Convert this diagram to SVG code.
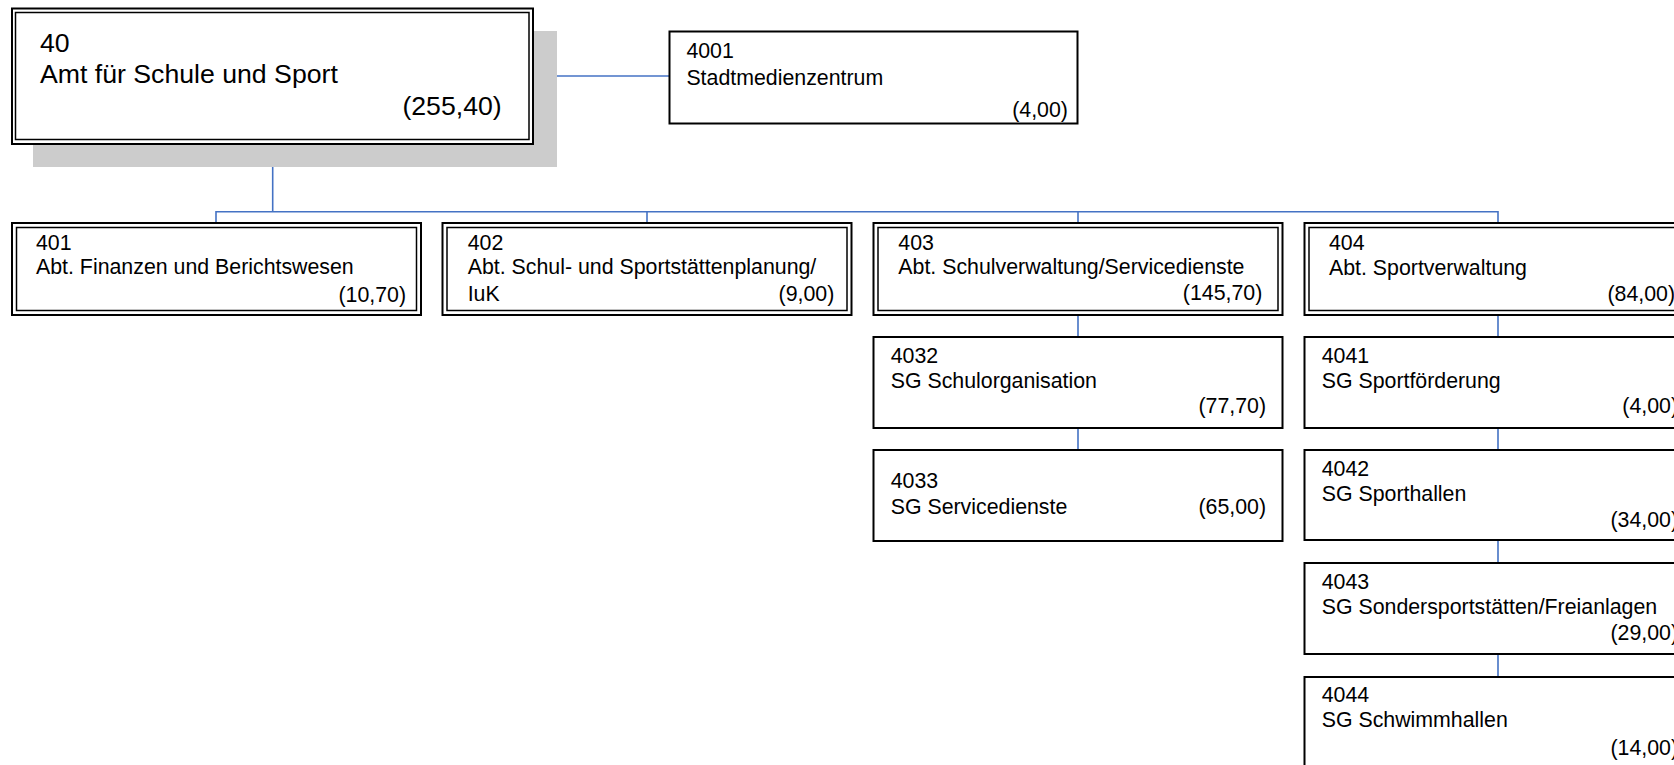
<svg xmlns="http://www.w3.org/2000/svg" width="1674" height="765" viewBox="0 0 1674 765">
<style>
.t{font-family:"Liberation Sans",Arial,sans-serif;font-size:21.33px;fill:#000}
.big{font-size:26.67px}
.r{text-anchor:end}
.o{fill:#fff;stroke:#000;stroke-width:2}
.i{fill:none;stroke:#000;stroke-width:1.5}
.s{fill:#fff;stroke:#000;stroke-width:2}
.c{fill:none;stroke:#4472C4;stroke-width:1.6}
</style>
<rect x="0" y="0" width="1674" height="765" fill="#fff"/>
<g id="connectors">
<path class="c" d="M533 76H669"/>
<path class="c" d="M272.7 144V211.7"/>
<path class="c" d="M216 222.7V211.7H1498V222.7"/>
<path class="c" d="M647 211.7V222.7"/>
<path class="c" d="M1078 211.7V222.7"/>
<path class="c" d="M1078 315V337M1078 428V450"/>
<path class="c" d="M1498 315V337M1498 428V450M1498 540V563M1498 654V677"/>
</g>
<g id="n40">
<rect x="33" y="31" width="524" height="136" fill="#ccc"/>
<rect class="o" x="12" y="8.5" width="521" height="135.5"/>
<rect class="i" x="15.5" y="12.5" width="513.5" height="127"/>
<text class="t big" x="40" y="51.7">40</text>
<text class="t big" x="40" y="83.3">Amt für Schule und Sport</text>
<text class="t big r" x="501.7" y="115">(255,40)</text>
</g>
<g id="n4001">
<rect class="s" x="669.5" y="31.5" width="408" height="92"/>
<text class="t" x="686.4" y="57.5">4001</text>
<text class="t" x="686.4" y="85">Stadtmedienzentrum</text>
<text class="t r" x="1067.9" y="116.5">(4,00)</text>
</g>
<g id="n401">
<rect class="o" x="12" y="223" width="409" height="92"/>
<rect class="i" x="16.5" y="227.5" width="400" height="83"/>
<text class="t" x="36" y="250">401</text>
<text class="t" x="36" y="274">Abt. Finanzen und Berichtswesen</text>
<text class="t r" x="406" y="301.5">(10,70)</text>
</g>
<g id="n402">
<rect class="o" x="442.5" y="223" width="409" height="92"/>
<rect class="i" x="447" y="227.5" width="400" height="83"/>
<text class="t" x="467.7" y="249.5">402</text>
<text class="t" x="467.7" y="273.5">Abt. Schul- und Sportstättenplanung/</text>
<text class="t" x="467.7" y="300.5">IuK</text>
<text class="t r" x="834.3" y="300.5">(9,00)</text>
</g>
<g id="n403">
<rect class="o" x="873.5" y="223" width="409" height="92"/>
<rect class="i" x="878" y="227.5" width="400" height="83"/>
<text class="t" x="898.3" y="249.5">403</text>
<text class="t" x="898.3" y="274">Abt. Schulverwaltung/Servicedienste</text>
<text class="t r" x="1262.3" y="300">(145,70)</text>
</g>
<g id="n404">
<rect class="o" x="1304.5" y="223" width="409" height="92"/>
<rect class="i" x="1309" y="227.5" width="400" height="83"/>
<text class="t" x="1329" y="250">404</text>
<text class="t" x="1329" y="275">Abt. Sportverwaltung</text>
<text class="t r" x="1675" y="301">(84,00)</text>
</g>
<g id="n4032">
<rect class="s" x="873.5" y="337" width="409" height="91"/>
<text class="t" x="890.7" y="363">4032</text>
<text class="t" x="890.7" y="388">SG Schulorganisation</text>
<text class="t r" x="1266" y="413">(77,70)</text>
</g>
<g id="n4033">
<rect class="s" x="873.5" y="450" width="409" height="91"/>
<text class="t" x="890.7" y="488.3">4033</text>
<text class="t" x="890.7" y="514">SG Servicedienste</text>
<text class="t r" x="1266" y="514">(65,00)</text>
</g>
<g id="n4041">
<rect class="s" x="1304.5" y="337" width="409" height="91"/>
<text class="t" x="1321.7" y="362.7">4041</text>
<text class="t" x="1321.7" y="388">SG Sportförderung</text>
<text class="t r" x="1678" y="413">(4,00)</text>
</g>
<g id="n4042">
<rect class="s" x="1304.5" y="450" width="409" height="90"/>
<text class="t" x="1321.7" y="475.7">4042</text>
<text class="t" x="1321.7" y="500.7">SG Sporthallen</text>
<text class="t r" x="1678" y="526.7">(34,00)</text>
</g>
<g id="n4043">
<rect class="s" x="1304.5" y="563" width="409" height="91"/>
<text class="t" x="1321.7" y="589">4043</text>
<text class="t" x="1321.7" y="614">SG Sondersportstätten/Freianlagen</text>
<text class="t r" x="1678" y="640">(29,00)</text>
</g>
<g id="n4044">
<rect class="s" x="1304.5" y="677" width="409" height="92"/>
<text class="t" x="1321.7" y="702">4044</text>
<text class="t" x="1321.7" y="727">SG Schwimmhallen</text>
<text class="t r" x="1678" y="755">(14,00)</text>
</g>
</svg>
